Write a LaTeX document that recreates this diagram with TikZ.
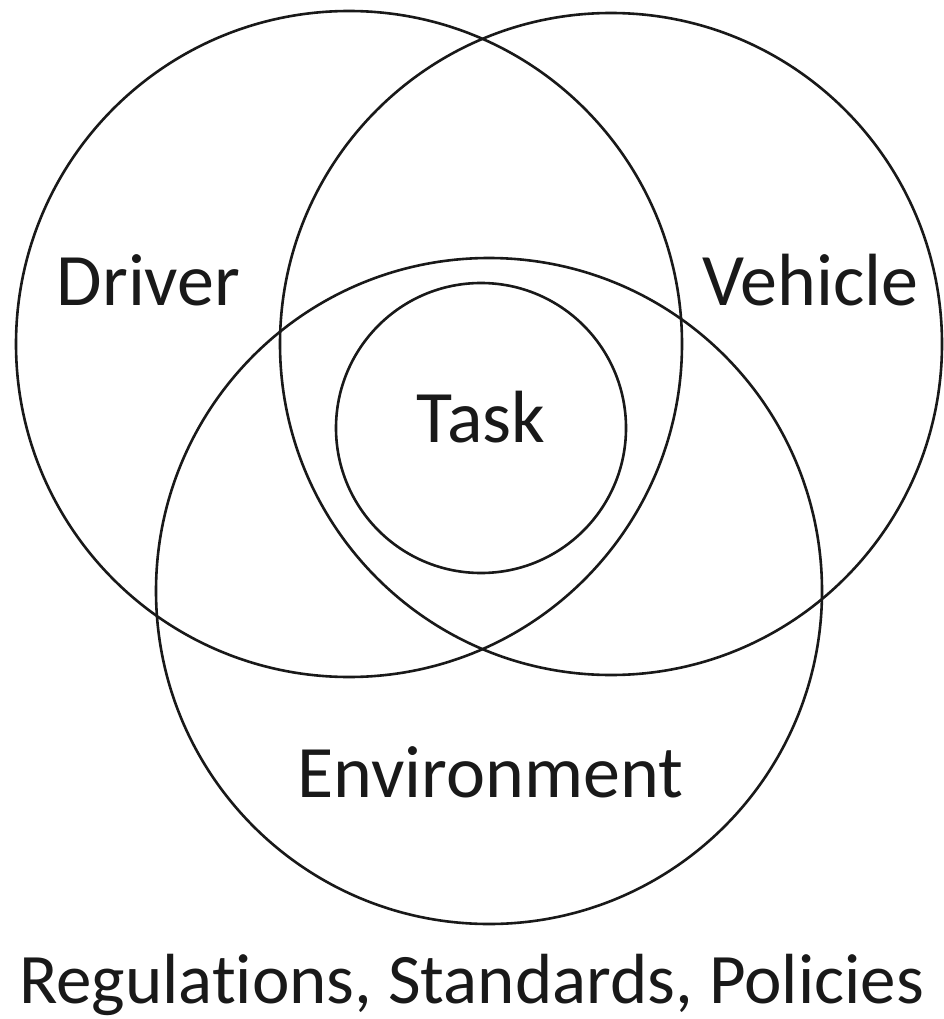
\documentclass[tikz,border=0pt]{standalone}
\usepackage{fontspec}
\setmainfont{Carlito}[Ligatures=NoCommon]
\begin{document}
\begin{tikzpicture}[x=1pt,y=-1pt,
  ring/.style={draw=black!90,line width=2.6pt,circle,inner sep=0pt},
  lbl/.style={inner sep=0pt,anchor=base,font=\fontsize{74}{80}\selectfont,text=black!90}]
\path[use as bounding box,fill=white] (0,0) rectangle (943,1019);
\node[ring,minimum size=666pt] (driver) at (349,344) {};
\node[ring,minimum size=662pt] (vehicle) at (611,344) {};
\node[ring,minimum size=666pt] (env) at (489,591) {};
\node[ring,minimum size=290pt] (task) at (481,428) {};
\node[lbl] (tdriver) at (148.5,305) {Driver};
\node[lbl] (tvehicle) at (810.5,305) {Vehicle};
\node[lbl] (ttask) at (481,442) {Task};
\node[lbl] (tenv) at (490.5,797) {Environment};
\node[lbl,font=\fontsize{71}{80}\selectfont] (treg) at (471.5,1003) {Regulations, Standards, Policies};
\end{tikzpicture}
\end{document}
